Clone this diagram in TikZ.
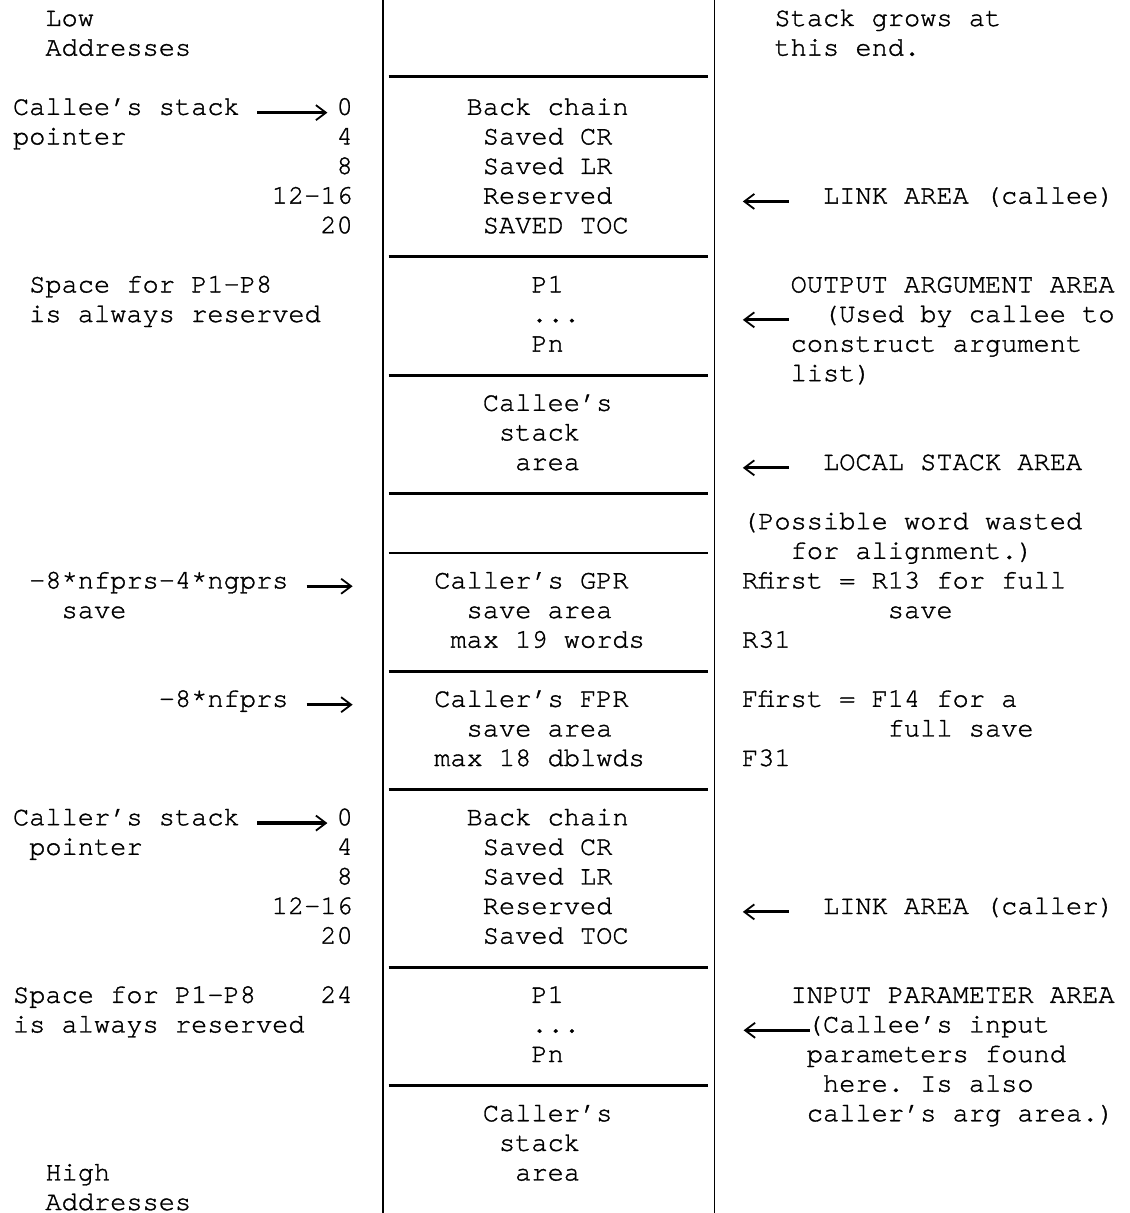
\documentclass[tikz,border=0pt]{standalone}
\usepackage{fontspec}
\setmonofont[FakeBold=1.2]{TeX Gyre Cursor}
\usetikzlibrary{arrows.meta}

\begin{document}
\begin{tikzpicture}[
  x=16.2pt, y=-29.6pt, shift={(12.8pt,-26pt)},
  txt/.style={anchor=base west, inner sep=0pt,
              font=\ttfamily\fontsize{27}{29.6}\selectfont},
  num/.style={txt, anchor=base east},
  wall/.style={line width=1.3pt},
  rule/.style={line width=2.8pt},
  ptr/.style={line width=3.2pt,
              -{Straight Barb[length=10pt, width=15pt, line width=1.8pt 0]}}
]
  \useasboundingbox[fill=white] (-0.79,-0.878) rectangle (68.96,40.10);

  % stack walls and separators
  \draw[wall] (22.85,-0.878) -- (22.85,40.10);
  \draw[wall] (43.33,-0.878) -- (43.33,40.10);
  \draw[rule] (23.20,1.7) -- (42.91,1.7);
  \foreach \r in {8,12,16,18,22,26,32,36}
    \draw[rule] (23.20,\r-0.2) -- (42.91,\r-0.2);

  % left column
  \node[txt] (low) at (2,0) {Low};
  \node[txt] (lowaddr) at (2,1) {Addresses};
  \node[txt] (calleesp) at (0,3) {Callee’s stack};
  \node[txt] (calleeptr) at (0,4) {pointer};
  \node[num] (ce0) at (21,3) {0};
  \node[num] (ce4) at (21,4) {4};
  \node[num] (ce8) at (21,5) {8};
  \node[num] (ce12) at (21,6) {12–16};
  \node[num] (ce20) at (21,7) {20};
  \node[txt] (outspace) at (1,9) {Space for P1–P8};
  \node[txt] (outres) at (1,10) {is always reserved};
  \node[txt] (gproff) at (1,19) {–8*nfprs–4*ngprs};
  \node[txt] (gprsave) at (3,20) {save};
  \node[txt] (fproff) at (9,23) {–8*nfprs};
  \node[txt] (callersp) at (0,27) {Caller’s stack};
  \node[txt] (callerptr) at (1,28) {pointer};
  \node[num] (cr0) at (21,27) {0};
  \node[num] (cr4) at (21,28) {4};
  \node[num] (cr8) at (21,29) {8};
  \node[num] (cr12) at (21,30) {12–16};
  \node[num] (cr20) at (21,31) {20};
  \node[txt] (inspace) at (0,33) {Space for P1–P8};
  \node[num] (in24) at (21,33) {24};
  \node[txt] (inres) at (0,34) {is always reserved};
  \node[txt] (high) at (2,39) {High};
  \node[txt] (highaddr) at (2,40) {Addresses};

  % stack contents
  \node[txt] (ceback) at (28,3) {Back chain};
  \node[txt] (cecr) at (29,4) {Saved CR};
  \node[txt] (celr) at (29,5) {Saved LR};
  \node[txt] (ceres) at (29,6) {Reserved};
  \node[txt] (cetoc) at (29,7) {SAVED TOC};
  \node[txt] (outp1) at (32,9) {P1};
  \node[txt] (outdots) at (32,10) {...};
  \node[txt] (outpn) at (32,11) {Pn};
  \node[txt] (locala) at (29,13) {Callee’s};
  \node[txt] (localb) at (30,14) {stack};
  \node[txt] (localc) at (31,15) {area};
  \node[txt] (gpra) at (26,19) {Caller’s GPR};
  \node[txt] (gprb) at (28,20) {save area};
  \node[txt] (gprc) at (27,21) {max 19 words};
  \node[txt] (fpra) at (26,23) {Caller’s FPR};
  \node[txt] (fprb) at (28,24) {save area};
  \node[txt] (fprc) at (26,25) {max 18 dblwds};
  \node[txt] (crback) at (28,27) {Back chain};
  \node[txt] (crcr) at (29,28) {Saved CR};
  \node[txt] (crlr) at (29,29) {Saved LR};
  \node[txt] (crres) at (29,30) {Reserved};
  \node[txt] (crtoc) at (29,31) {Saved TOC};
  \node[txt] (inp1) at (32,33) {P1};
  \node[txt] (indots) at (32,34) {...};
  \node[txt] (inpn) at (32,35) {Pn};
  \node[txt] (parenta) at (29,37) {Caller’s};
  \node[txt] (parentb) at (30,38) {stack};
  \node[txt] (parentc) at (31,39) {area};

  % right column
  \node[txt] (growa) at (47,0) {Stack grows at};
  \node[txt] (growb) at (47,1) {this end.};
  \node[txt] (linkee) at (50,6) {LINK AREA (callee)};
  \node[txt] (outa) at (48,9) {OUTPUT ARGUMENT AREA};
  \node[txt] (outb) at (50,10) {(Used by callee to};
  \node[txt] (outc) at (48,11) {construct argument};
  \node[txt] (outd) at (48,12) {list)};
  \node[txt] (localarea) at (50,15) {LOCAL STACK AREA};
  \node[txt] (padda) at (45,17) {(Possible word wasted};
  \node[txt] (paddb) at (48,18) {for alignment.)};
  \node[txt] (rfirst) at (45,19) {Rfirst = R13 for full};
  \node[txt] (rsave) at (54,20) {save};
  \node[txt] (rlast) at (45,21) {R31};
  \node[txt] (ffirst) at (45,23) {Ffirst = F14 for a};
  \node[txt] (fsave) at (54,24) {full save};
  \node[txt] (flast) at (45,25) {F31};
  \node[txt] (linker) at (50,30) {LINK AREA (caller)};
  \node[txt] (ina) at (48,33) {INPUT PARAMETER AREA};
  \node[txt] (inb) at (49,34) {(Callee’s input};
  \node[txt] (inc) at (49,35) {parameters found};
  \node[txt] (ind) at (50,36) {here. Is also};
  \node[txt] (ine) at (49,37) {caller’s arg area.)};

  % pointers
  \draw[ptr] ([xshift=17pt]calleesp.mid east) -- ([xshift=-9pt]ce0.mid west);
  \draw[ptr] ([xshift=17pt]callersp.mid east) -- ([xshift=-9pt]cr0.mid west);
  \draw[ptr] ([xshift=18pt]gproff.mid east) -- ++(46pt,0);
  \draw[ptr] ([xshift=18pt]fproff.mid east) -- ++(46pt,0);
  \draw[ptr] ([xshift=-34pt]linkee.mid west) -- ++(-46pt,0);
  \draw[ptr] ([xshift=-34pt]outb.mid west) -- ++(-46pt,0);
  \draw[ptr] ([xshift=-34pt]localarea.mid west) -- ++(-46pt,0);
  \draw[ptr] ([xshift=-34pt]linker.mid west) -- ++(-46pt,0);
  \draw[ptr] ([xshift=3pt]inb.mid west) -- ++(-66pt,0);
\end{tikzpicture}
\end{document}
